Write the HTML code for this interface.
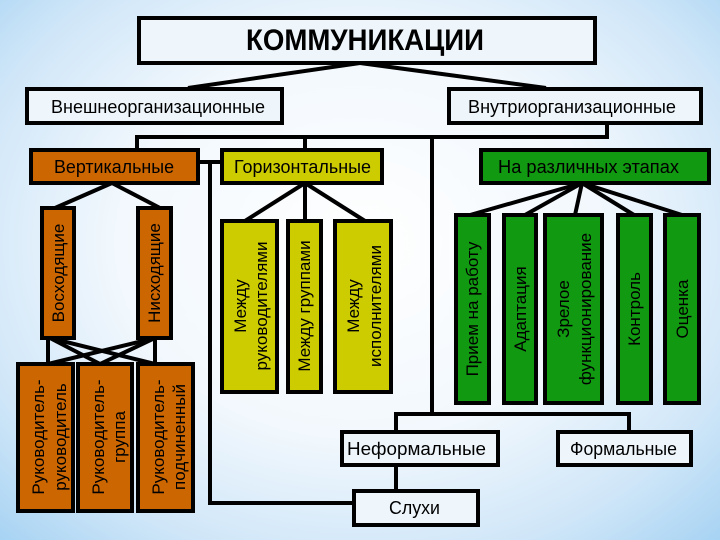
<!DOCTYPE html>
<html><head><meta charset="utf-8"><style>
html,body{margin:0;padding:0;width:720px;height:540px;overflow:hidden}
body{background:radial-gradient(ellipse 75% 80% at 50% 45%,#ffffff 0%,#f2f8fd 45%,#cfe6f8 75%,#9fcff2 100%)}
svg{display:block}
text{font-family:"Liberation Sans","DejaVu Sans",sans-serif;fill:#000}
</style></head><body>
<svg width="720" height="540" viewBox="0 0 720 540" xmlns="http://www.w3.org/2000/svg">
<g stroke="#000" stroke-width="4" fill="none">
<line x1="360" y1="63" x2="188" y2="88"/>
<line x1="360" y1="63" x2="546" y2="88"/>
<polyline points="137,150 137,137 607,137 607,123"/>
<line x1="305" y1="137" x2="305" y2="150"/>
<polyline points="432,137 432,414"/>
<polyline points="396,431 396,414 629,414 629,431"/>
<line x1="396" y1="465" x2="396" y2="490"/>
<polyline points="198,162 221,162"/>
<polyline points="210,162 210,503 353,503"/>
<line x1="112" y1="183" x2="55" y2="208"/>
<line x1="112" y1="183" x2="160" y2="208"/>
<line x1="305" y1="183" x2="245" y2="221"/>
<line x1="305" y1="183" x2="305" y2="221"/>
<line x1="305" y1="183" x2="365" y2="221"/>
<line x1="582" y1="183" x2="470" y2="215"/>
<line x1="582" y1="183" x2="525" y2="215"/>
<line x1="582" y1="183" x2="575" y2="215"/>
<line x1="582" y1="183" x2="634" y2="215"/>
<line x1="582" y1="183" x2="682" y2="215"/>
<line x1="48" y1="338" x2="48" y2="364"/>
<line x1="155" y1="338" x2="155" y2="364"/>
<line x1="50" y1="338" x2="100" y2="364"/>
<line x1="50" y1="338" x2="155" y2="364"/>
<line x1="155" y1="338" x2="48" y2="364"/>
<line x1="155" y1="338" x2="100" y2="364"/>
</g>
<g stroke="#000" stroke-width="4">
<rect x="139" y="18" width="456" height="45" fill="#eef6fc"/>
<rect x="27" y="89" width="255" height="34" fill="#eef6fc"/>
<rect x="449" y="89" width="252" height="34" fill="#eef6fc"/>
<rect x="31" y="150" width="167" height="33" fill="#cc6600"/>
<rect x="222" y="150" width="160" height="33" fill="#cccc00"/>
<rect x="481" y="150" width="228" height="33" fill="#119911"/>
<rect x="42" y="208" width="32" height="130" fill="#cc6600"/>
<rect x="138" y="208" width="33" height="130" fill="#cc6600"/>
<rect x="18" y="364" width="55" height="147" fill="#cc6600"/>
<rect x="78" y="364" width="54" height="147" fill="#cc6600"/>
<rect x="138" y="364" width="55" height="147" fill="#cc6600"/>
<rect x="222" y="221" width="55" height="171" fill="#cccc00"/>
<rect x="288" y="221" width="33" height="171" fill="#cccc00"/>
<rect x="335" y="221" width="56" height="171" fill="#cccc00"/>
<rect x="456" y="215" width="33" height="188" fill="#119911"/>
<rect x="504" y="215" width="32" height="188" fill="#119911"/>
<rect x="545" y="215" width="57" height="188" fill="#119911"/>
<rect x="618" y="215" width="33" height="188" fill="#119911"/>
<rect x="665" y="215" width="34" height="188" fill="#119911"/>
<rect x="342" y="432" width="156" height="33" fill="#eef6fc"/>
<rect x="558" y="432" width="133" height="33" fill="#eef6fc"/>
<rect x="354" y="491" width="124" height="34" fill="#eef6fc"/>
</g>
<g font-size="18" lengthAdjust="spacingAndGlyphs">
<text x="246" y="50" font-size="30" font-weight="bold" textLength="238" lengthAdjust="spacingAndGlyphs">КОММУНИКАЦИИ</text>
<text x="51" y="113" textLength="214" lengthAdjust="spacingAndGlyphs">Внешнеорганизационные</text>
<text x="468" y="113" textLength="208" lengthAdjust="spacingAndGlyphs">Внутриорганизационные</text>
<text x="54" y="173" textLength="120" lengthAdjust="spacingAndGlyphs">Вертикальные</text>
<text x="234" y="173" textLength="137" lengthAdjust="spacingAndGlyphs">Горизонтальные</text>
<text x="498" y="173" textLength="181" lengthAdjust="spacingAndGlyphs">На различных этапах</text>
<text x="347" y="455" textLength="139" lengthAdjust="spacingAndGlyphs">Неформальные</text>
<text x="570" y="455" textLength="107" lengthAdjust="spacingAndGlyphs">Формальные</text>
<text x="389" y="514" textLength="51" lengthAdjust="spacingAndGlyphs">Слухи</text>
</g>
<g font-size="17" text-anchor="middle">
<text transform="translate(64,273) rotate(-90)">Восходящие</text>
<text transform="translate(160,273) rotate(-90)">Нисходящие</text>
<text transform="translate(44,437) rotate(-90)">Руководитель-</text>
<text transform="translate(66,437) rotate(-90)">руководитель</text>
<text transform="translate(104,437) rotate(-90)">Руководитель-</text>
<text transform="translate(125,437) rotate(-90)">группа</text>
<text transform="translate(164,437) rotate(-90)">Руководитель-</text>
<text transform="translate(185,437) rotate(-90)">подчиненный</text>
<text transform="translate(246,306) rotate(-90)">Между</text>
<text transform="translate(267,306) rotate(-90)">руководителями</text>
<text transform="translate(310,306) rotate(-90)">Между группами</text>
<text transform="translate(359,306) rotate(-90)">Между</text>
<text transform="translate(381,306) rotate(-90)">исполнителями</text>
<text transform="translate(478,309) rotate(-90)">Прием на работу</text>
<text transform="translate(526,309) rotate(-90)">Адаптация</text>
<text transform="translate(569,309) rotate(-90)">Зрелое</text>
<text transform="translate(591,309) rotate(-90)">функционирование</text>
<text transform="translate(640,309) rotate(-90)">Контроль</text>
<text transform="translate(688,309) rotate(-90)">Оценка</text>
</g>
</svg>
</body></html>
